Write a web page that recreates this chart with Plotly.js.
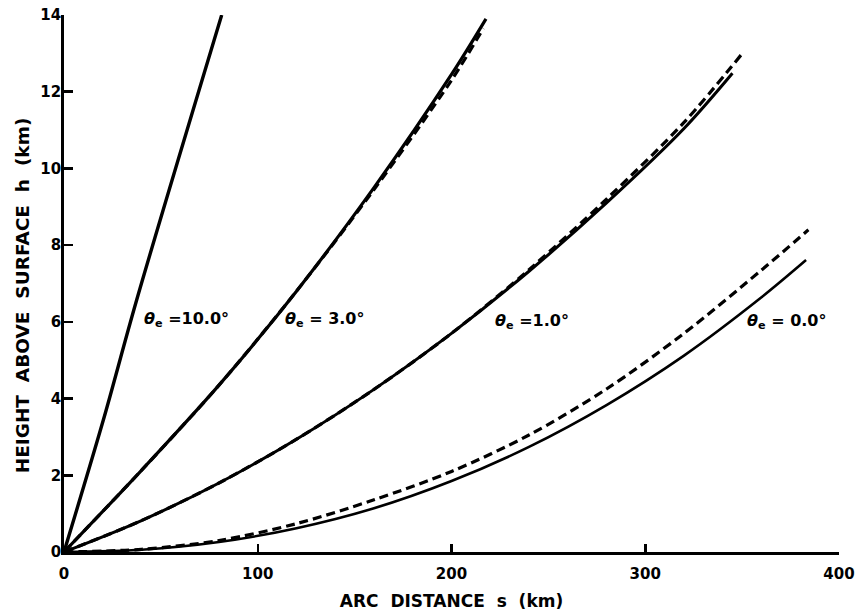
<!DOCTYPE html>
<html>
<head>
<meta charset="utf-8">
<script src="https://cdn.plot.ly/plotly-3.0.1.min.js"></script>
<style>html,body{margin:0;padding:0;background:#fff;}#chart{width:858px;height:616px;}</style>
</head>
<body>
<div id="chart"></div>
<script>
// Arc distance s (km) and height h (km)
const s10 = [0, 20.3, 37.5, 81.4];
const h10 = [0, 3.44, 6.57, 14.0];

const s3 = [0, 40, 80, 120, 160, 200, 217.8];
const h3 = [0, 2.13, 4.35, 6.8, 9.5, 12.45, 13.9];
const s3d = [0, 40, 80, 120, 160, 200, 216.4];
const h3d = [0, 2.13, 4.35, 6.8, 9.45, 12.3, 13.65];

const s1 = [0, 40, 80, 120, 160, 200, 240, 280, 320, 345.0];
const h1 = [0, 0.82, 1.80, 2.94, 4.24, 5.70, 7.32, 9.10, 11.04, 12.48];
const s1d = [0, 40, 80, 120, 160, 200, 240, 280, 320, 349.8];
const h1d = [0, 0.82, 1.80, 2.94, 4.24, 5.70, 7.36, 9.20, 11.20, 12.98];

const s0 = [0, 40, 80, 120, 160, 200, 240, 280, 320, 360, 383.0];
const h0 = [0, 0.06, 0.26, 0.62, 1.14, 1.85, 2.74, 3.83, 5.12, 6.64, 7.61];
const s0d = [0, 40, 80, 120, 160, 200, 240, 280, 320, 360, 384.2];
const h0d = [0, 0.07, 0.3, 0.74, 1.36, 2.1, 3.05, 4.25, 5.7, 7.35, 8.4];

const labelText = ['<i>θ</i><sub>e</sub> =10.0°', '<i>θ</i><sub>e</sub> = 3.0°', '<i>θ</i><sub>e</sub> =1.0°', '<i>θ</i><sub>e</sub> = 0.0°'];
const labelS = [40.3, 113.2, 221.6, 351.5];
const labelH = [6.05, 6.05, 6.0, 6.02];

const xTicks = [0, 100, 200, 300, 400];
const yTicks = [0, 2, 4, 6, 8, 10, 12, 14];

const xTitle = 'ARC  DISTANCE  s  (km)';
const yTitle = 'HEIGHT  ABOVE  SURFACE  h  (km)';

function solid(x, y, w) {
  return {x: x, y: y, mode: 'lines', line: {color: '#000', width: w, shape: 'spline', smoothing: 0.9}, hoverinfo: 'skip'};
}
function dashed(x, y) {
  return {x: x, y: y, mode: 'lines', line: {color: '#000', width: 3.2, dash: '9px,5px', shape: 'spline', smoothing: 0.9}, hoverinfo: 'skip'};
}

const data = [
  solid(s10, h10, 3.4),
  dashed(s3d, h3d),
  solid(s3, h3, 3.2),
  dashed(s1d, h1d),
  solid(s1, h1, 3.0),
  dashed(s0d, h0d),
  solid(s0, h0, 2.6)
];

const tickFont = {family: 'DejaVu Sans', size: 15, color: '#000', weight: 'bold'};
const nb = s => s.replace(/  /g, '\u00a0 ');

const annotations = labelText.map((t, i) => ({
  x: labelS[i], y: labelH[i], xref: 'x', yref: 'y', text: t, showarrow: false,
  xanchor: 'left', yanchor: 'middle',
  font: {family: 'DejaVu Sans', size: 16, color: '#000', weight: 'bold'}
}));
annotations.push({
  x: -0.0542, y: 0.478, xref: 'paper', yref: 'paper', text: nb(yTitle), showarrow: false,
  textangle: -90, xanchor: 'center', yanchor: 'middle',
  font: {family: 'DejaVu Sans', size: 18.5, color: '#000', weight: 'bold'}
});

const layout = {
  width: 858, height: 616,
  margin: {l: 64, r: 19, t: 15, b: 64},
  paper_bgcolor: '#fff', plot_bgcolor: '#fff',
  showlegend: false,
  font: {family: 'DejaVu Sans', color: '#000'},
  xaxis: {
    range: [0, 400], tickvals: xTicks, ticktext: xTicks.map(String),
    showgrid: false, zeroline: false, showline: true, linecolor: '#000', linewidth: 2.8,
    ticks: 'inside', ticklen: 8, tickwidth: 2.5, tickcolor: '#000',
    tickfont: tickFont, ticklabelstandoff: 6,
    title: {text: nb(xTitle), font: {family: 'DejaVu Sans', size: 17, color: '#000', weight: 'bold'}, standoff: 14}
  },
  yaxis: {
    range: [0, 14], tickvals: yTicks, ticktext: yTicks.map(String),
    showgrid: false, zeroline: false, showline: true, linecolor: '#000', linewidth: 2.8,
    ticks: 'inside', ticklen: 9, tickwidth: 2.5, tickcolor: '#000',
    tickfont: tickFont, ticklabelstandoff: -3
  },
  annotations: annotations
};

Plotly.newPlot('chart', data, layout, {staticPlot: true, displayModeBar: false});
</script>
</body>
</html>
